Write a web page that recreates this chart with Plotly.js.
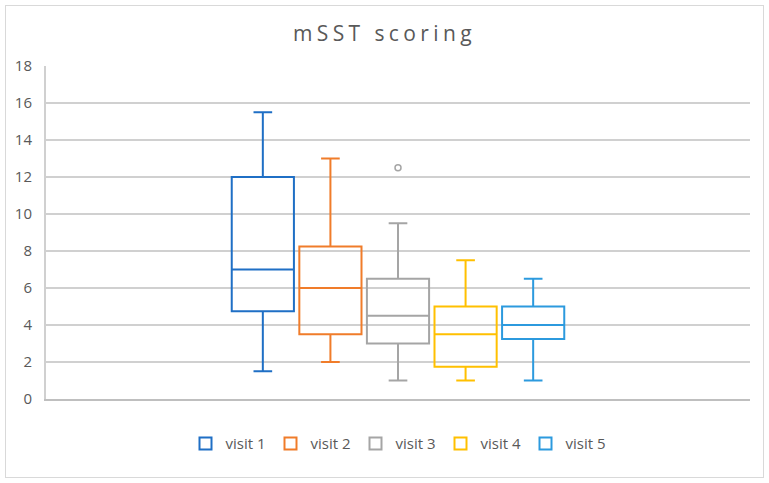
<!DOCTYPE html>
<html>
<head>
<meta charset="utf-8">
<script src="https://cdn.plot.ly/plotly-3.0.1.min.js"></script>
<style>
  html, body { margin: 0; padding: 0; background: #fff; }
  #wrap { position: relative; width: 769px; height: 483px; }
  #chart { width: 769px; height: 483px; }
  #frame { position: absolute; left: 5px; top: 5px; width: 757px; height: 471px;
           border: 1px solid #d9d9d9; pointer-events: none; }
  .gtitle { letter-spacing: 4.4px; }
</style>
</head>
<body>
<div id="wrap">
  <div id="chart"></div>
  <div id="frame"></div>
</div>
<script>
// Visits and their five-number summaries of the mSST score
const visits = ['visit 1', 'visit 2', 'visit 3', 'visit 4', 'visit 5'];
const lowerWhisker = [1.5, 2, 1, 1, 1];
const q1Values     = [4.75, 3.5, 3, 1.75, 3.25];
const medians      = [7, 6, 4.5, 3.5, 4];
const q3Values     = [12, 8.25, 6.5, 5, 5];
const upperWhisker = [15.5, 13, 9.5, 7.5, 6.5];
// Observations outside the whiskers
const outliers     = [[], [], [12.5], [], []];
const colors = ['#1f6fc5', '#f07c2a', '#a5a5a5', '#ffc000', '#2c9ade'];

const group = 'mSST';

const traces = visits.map((name, i) => {
  const t = {
    type: 'box',
    name: name,
    x: [group],
    q1: [q1Values[i]],
    median: [medians[i]],
    q3: [q3Values[i]],
    lowerfence: [lowerWhisker[i]],
    upperfence: [upperWhisker[i]],
    whiskerwidth: 0.3,
    line: { color: colors[i], width: 2 },
    fillcolor: 'rgba(255,255,255,0)',
    marker: { symbol: 'circle-open', size: 6, color: colors[i], line: { width: 1.5 } },
    hoverinfo: 'y'
  };
  if (outliers[i].length) {
    t.y = [outliers[i]];
    t.boxpoints = 'outliers';
  } else {
    t.boxpoints = false;
  }
  return t;
});

const layout = {
  width: 769,
  height: 483,
  paper_bgcolor: '#ffffff',
  plot_bgcolor: '#ffffff',
  margin: { l: 46, r: 19, t: 66, b: 84 },
  font: { family: 'Open Sans, Liberation Sans, sans-serif', color: '#595959' },
  title: {
    text: 'mSST scoring',
    font: { size: 21, color: '#595959' },
    x: 0.5, xanchor: 'center',
    y: 0.93, yanchor: 'middle'
  },
  boxmode: 'group',
  boxgap: 0.52,
  boxgroupgap: 0.08,
  xaxis: {
    type: 'category',
    range: [-0.5, 0.5],
    showticklabels: false,
    ticks: '',
    showgrid: false,
    showline: true,
    linecolor: '#bfbfbf',
    linewidth: 2,
    zeroline: false,
    fixedrange: true
  },
  yaxis: {
    range: [0, 18],
    dtick: 2,
    tick0: 0,
    showgrid: true,
    gridcolor: '#d0d0d0',
    gridwidth: 1.5,
    showline: true,
    linecolor: '#d0d0d0',
    linewidth: 2,
    zeroline: false,
    ticks: '',
    ticklabelstandoff: 9,
    tickfont: { size: 15, color: '#595959' },
    fixedrange: true
  },
  showlegend: true,
  legend: {
    orientation: 'h',
    x: 0.5, xanchor: 'center',
    y: -0.085, yanchor: 'top',
    font: { size: 15, color: '#595959' },
    entrywidth: 40,
    entrywidthmode: 'pixels',
    itemclick: false
  }
};

Plotly.newPlot('chart', traces, layout, { displayModeBar: false, staticPlot: true });
</script>
</body>
</html>
